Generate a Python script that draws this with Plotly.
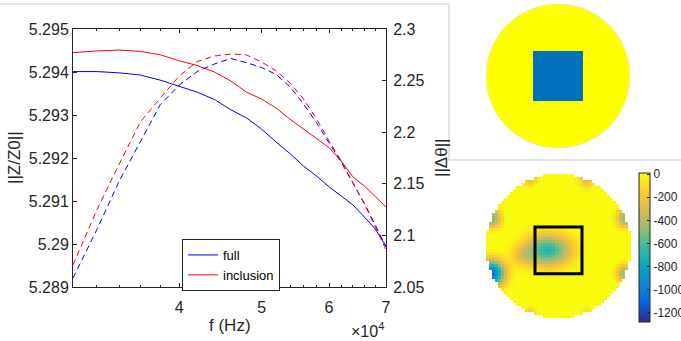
import numpy as np
import plotly.graph_objects as go

# ---------------- data ----------------
freq = [30000, 32000, 34000, 36000, 38000, 40000, 42000, 44000, 46000, 48000, 50000,
        52000, 54000, 56000, 58000, 60000, 62000, 64000, 66000, 68000, 70000]
z_full = [5.29401, 5.29401, 5.29398, 5.29393, 5.29381, 5.29367, 5.29353, 5.29336, 5.29312, 5.29293, 5.29267,
          5.29237, 5.29210, 5.29181, 5.29158, 5.29133, 5.29112, 5.29091, 5.29063, 5.29035, 5.28995]
z_incl = [5.29445, 5.29449, 5.29451, 5.29448, 5.29440, 5.29426, 5.29415, 5.29400, 5.29379, 5.29353, 5.29337,
          5.29316, 5.29290, 5.29267, 5.29246, 5.29224, 5.29193, 5.29156, 5.29135, 5.29109, 5.29086]
dth_full = [2.0587, 2.1056, 2.1527, 2.1915, 2.2268, 2.2457, 2.2588, 2.2661, 2.2714, 2.2673, 2.2627,
            2.2559, 2.2438, 2.2273, 2.2092, 2.1895, 2.1711, 2.1507, 2.1313, 2.1100, 2.0888]
dth_incl = [2.0713, 2.1246, 2.1692, 2.2099, 2.2331, 2.2545, 2.2685, 2.2738, 2.2758, 2.2748, 2.2680,
            2.2593, 2.2477, 2.2322, 2.2130, 2.1915, 2.1725, 2.1515, 2.1305, 2.1085, 2.0859]

x_tickvals = [40000, 50000, 60000, 70000]
x_ticktext = ["4", "5", "6", "7"]
x_minor = [32000, 34000, 36000, 38000, 42000, 44000, 46000, 48000, 52000, 54000, 56000, 58000,
           62000, 64000, 66000, 68000]
z_tickvals = [5.289, 5.290, 5.291, 5.292, 5.293, 5.294, 5.295]
z_ticktext = ["5.289", "5.29", "5.291", "5.292", "5.293", "5.294", "5.295"]
th_tickvals = [2.05, 2.10, 2.15, 2.20, 2.25, 2.30]
th_ticktext = ["2.05", "2.1", "2.15", "2.2", "2.25", "2.3"]

# true conductivity picture (disk + square inclusion)
inclusion_half = 0.347

# reconstruction: blobs
background_level = 40
center_blobs_x = [-0.15, -0.50]
center_blobs_y = [-0.06, -0.14]
center_blobs_amp = [-720, -170]
center_blobs_sx = [0.23, 0.10]
center_blobs_sy = [0.16, 0.10]
edge_angle_deg = [22.5, 67.5, 112.5, 157.5, 202.5, 247.5, 292.5, 337.5]
edge_amp = [-540, -340, -290, -580, -1120, -230, -160, -520]
edge_sigma = [0.09, 0.08, 0.07, 0.095, 0.13, 0.06, 0.05, 0.09]
cbar_ticks = [0, -200, -400, -600, -800, -1000, -1200]
outline_center_y = -0.06
outline_half = 0.324

# ---------------- figure ----------------
W, H = 681, 341
def px(x):
    return x / W
def py(y):
    return 1 - y / H

TXT = "#262626"
FONT = "Liberation Sans, Arial, sans-serif"
BLUE = "#0000ff"
RED = "#ff0000"

fig = go.Figure()
fig.add_trace(go.Scatter(x=freq, y=z_full, mode="lines", name="full",
                         line=dict(color=BLUE, width=1), xaxis="x", yaxis="y"))
fig.add_trace(go.Scatter(x=freq, y=z_incl, mode="lines", name="inclusion",
                         line=dict(color=RED, width=1), xaxis="x", yaxis="y"))
fig.add_trace(go.Scatter(x=freq, y=dth_full, mode="lines", showlegend=False,
                         line=dict(color=BLUE, width=1, dash="6px,4px"), xaxis="x", yaxis="y2"))
fig.add_trace(go.Scatter(x=freq, y=dth_incl, mode="lines", showlegend=False,
                         line=dict(color=RED, width=1, dash="6px,4px"), xaxis="x", yaxis="y2"))

# reconstruction field
n = 48
edges = np.linspace(-1, 1, n + 1)
cent = (edges[:-1] + edges[1:]) / 2
GX, GY = np.meshgrid(cent, cent)
field = np.full_like(GX, float(background_level))
for bx, by, a, sx, sy in zip(center_blobs_x, center_blobs_y, center_blobs_amp, center_blobs_sx, center_blobs_sy):
    field += a * np.exp(-0.5 * (((GX - bx) / sx) ** 2 + ((GY - by) / sy) ** 2))
for ang, a, s in zip(edge_angle_deg, edge_amp, edge_sigma):
    bx, by = np.cos(np.radians(ang)), np.sin(np.radians(ang))
    field += a * np.exp(-0.5 * (((GX - bx) ** 2 + (GY - by) ** 2) / s ** 2))
field[GX ** 2 + GY ** 2 > 1.0] = np.nan

parula = [[0.0, "#352a87"], [0.125, "#0363e1"], [0.25, "#1485d4"], [0.375, "#06a7c6"],
          [0.5, "#38b99e"], [0.625, "#92bf73"], [0.75, "#d9ba56"], [0.875, "#fcce2e"], [1.0, "#f9fb0e"]]

fig.add_trace(go.Heatmap(
    x=cent, y=cent, z=field, colorscale=parula, zmin=-1280, zmax=10,
    xaxis="x4", yaxis="y4", hoverinfo="skip",
    colorbar=dict(x=px(639), xanchor="left", y=py(247.5), yanchor="middle",
                  len=149, lenmode="pixels", thickness=11, thicknessmode="pixels",
                  xpad=0, ypad=0, outlinewidth=1, outlinecolor=TXT,
                  tickvals=cbar_ticks, ticktext=[str(v) for v in cbar_ticks],
                  ticks="inside", ticklen=3, tickcolor=TXT,
                  tickfont=dict(size=12, color=TXT, family=FONT))))
fig.add_trace(go.Scatter(x=[0], y=[0], mode="markers", marker=dict(opacity=0),
                         showlegend=False, hoverinfo="skip", xaxis="x3", yaxis="y3"))

axis_common = dict(showgrid=False, zeroline=False, showline=True, linecolor=TXT, linewidth=1,
                   ticks="inside", ticklen=4, tickcolor=TXT,
                   tickfont=dict(size=16, color=TXT, family=FONT))

fig.update_layout(
    width=W, height=H, margin=dict(l=0, r=0, t=0, b=0, autoexpand=False),
    paper_bgcolor="white", plot_bgcolor="white",
    font=dict(family=FONT, color=TXT),
    xaxis=dict(domain=[px(73), px(386)], type="log",
               range=[np.log10(30000), np.log10(70000)],
               tickmode="array", tickvals=x_tickvals, ticktext=x_ticktext,
               mirror="ticks", anchor="y", ticklabelstandoff=6,
               minor=dict(tickmode="array", tickvals=x_minor, ticks="inside", ticklen=2, tickcolor=TXT),
               **axis_common),
    yaxis=dict(domain=[py(287), py(29)], range=[5.289, 5.295],
               tickmode="array", tickvals=z_tickvals, ticktext=z_ticktext, anchor="x",
               **axis_common),
    yaxis2=dict(domain=[py(287), py(29)], range=[2.05, 2.3], overlaying="y", side="right",
                tickmode="array", tickvals=th_tickvals, ticktext=th_ticktext, anchor="x",
                ticklabelstandoff=3, **axis_common),
    xaxis3=dict(domain=[px(486), px(630)], range=[-1, 1], visible=False, anchor="y3"),
    yaxis3=dict(domain=[py(148), py(4)], range=[-1, 1], visible=False, anchor="x3"),
    xaxis4=dict(domain=[px(486), px(631)], range=[-1, 1], visible=False, anchor="y4"),
    yaxis4=dict(domain=[py(318), py(174)], range=[-1, 1], visible=False, anchor="x4"),
    legend=dict(x=px(182), xanchor="left", y=py(239), yanchor="top",
                bgcolor="white", bordercolor=TXT, borderwidth=1,
                font=dict(size=13, color="black", family=FONT),
                tracegroupgap=0, itemwidth=30),
    showlegend=True,
)

shapes = [
    # window frame lines
    dict(type="line", xref="paper", yref="paper", x0=0, x1=px(449), y0=py(4), y1=py(4),
         line=dict(color="#c8c8c8", width=1)),
    dict(type="line", xref="paper", yref="paper", x0=px(449), x1=px(449), y0=py(4), y1=py(160),
         line=dict(color="#c8c8c8", width=1)),
    dict(type="line", xref="paper", yref="paper", x0=px(449), x1=1, y0=py(160), y1=py(160),
         line=dict(color="#c8c8c8", width=1)),
    # true conductivity
    dict(type="circle", xref="x3", yref="y3", x0=-1, x1=1, y0=-1, y1=1,
         fillcolor="#ffff00", line=dict(color="#f0f0a0", width=1)),
    dict(type="rect", xref="x3", yref="y3", x0=-inclusion_half, x1=inclusion_half,
         y0=-inclusion_half, y1=inclusion_half, fillcolor="#0072bd", line=dict(width=0)),
    # inclusion outline on reconstruction
    dict(type="rect", xref="x4", yref="y4", x0=-outline_half, x1=outline_half,
         y0=outline_center_y - outline_half, y1=outline_center_y + outline_half,
         line=dict(color="black", width=3)),
]
fig.update_layout(shapes=shapes)

ann_font = dict(size=17, color=TXT, family=FONT)
fig.update_layout(annotations=[
    dict(text="||Z/Z0||", x=px(14), y=py(158), xref="paper", yref="paper", textangle=-90,
         xanchor="center", yanchor="middle", showarrow=False, font=ann_font),
    dict(text="||Δθ||", x=px(441), y=py(158), xref="paper", yref="paper", textangle=-90,
         xanchor="center", yanchor="middle", showarrow=False, font=ann_font),
    dict(text="f (Hz)", x=px(229.5), y=py(325), xref="paper", yref="paper",
         xanchor="center", yanchor="middle", showarrow=False, font=ann_font),
    dict(text="×10<sup>4</sup>", x=px(367), y=py(330), xref="paper", yref="paper",
         xanchor="center", yanchor="middle", showarrow=False,
         font=dict(size=16, color=TXT, family=FONT)),
])

fig.write_html("out.html")
